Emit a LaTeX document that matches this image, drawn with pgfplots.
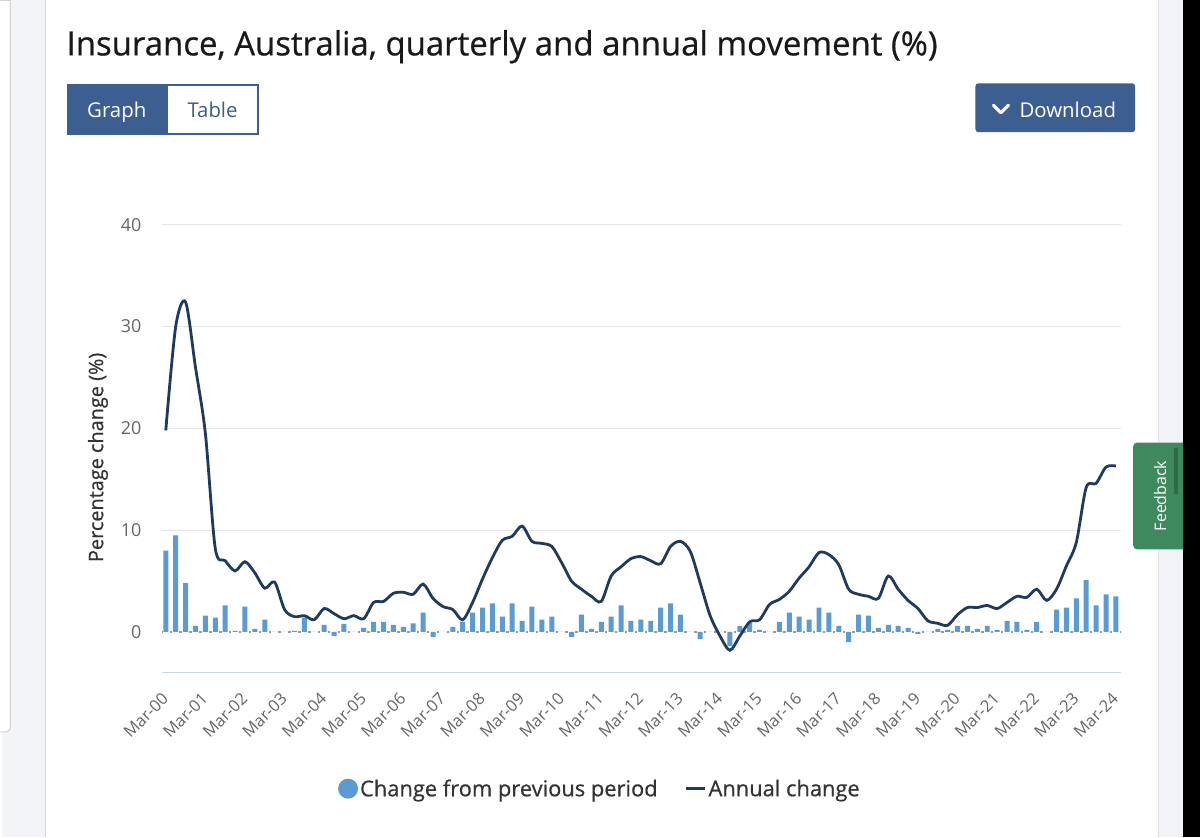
\documentclass[border=0pt]{standalone}
\usepackage{fontspec}
\setmainfont{Open Sans}
\newfontfamily\semib[FakeBold=0.6]{Open Sans}
\usepackage{pgfplots}
\pgfplotsset{compat=1.18}
\usepackage{pgfplotstable}
\definecolor{barblue}{HTML}{5A9BD4}
\definecolor{linenavy}{HTML}{1F3A5F}
\definecolor{btnnavy}{HTML}{3D5E91}
\definecolor{gridgrey}{HTML}{E6E6E6}
\definecolor{axisblue}{HTML}{CCD6EB}
\definecolor{ticktext}{HTML}{666666}
\definecolor{labeltext}{HTML}{333333}
\definecolor{sidegrey}{HTML}{F3F4F7}
\definecolor{fbgreen}{HTML}{3E8A5E}
\definecolor{fbdark}{HTML}{2C6B45}

\pgfplotstableread{
i bar line
0 8.0 19.8
1 9.5 30.0
2 4.8 32.4
3 0.6 26.0
4 1.6 19.5
5 1.4 8.2
6 2.6 7.0
7 0.1 6.0
8 2.5 6.9
9 0.3 5.8
10 1.2 4.3
11 0.0 4.9
12 0.0 2.2
13 0.1 1.5
14 1.4 1.6
15 0.0 1.2
16 0.7 2.3
17 -0.4 1.8
18 0.8 1.3
19 0.0 1.6
20 0.4 1.3
21 1.0 2.9
22 1.0 3.0
23 0.7 3.8
24 0.5 3.9
25 0.85 3.7
26 1.9 4.7
27 -0.5 3.3
28 0.0 2.5
29 0.5 2.2
30 1.0 1.2
31 1.9 2.9
32 2.4 5.2
33 2.8 7.3
34 1.5 9.0
35 2.8 9.4
36 1.1 10.4
37 2.5 8.9
38 1.2 8.7
39 1.5 8.4
40 0.0 6.8
41 -0.5 5.0
42 1.7 4.2
43 0.3 3.5
44 1.0 3.0
45 1.5 5.5
46 2.6 6.4
47 1.1 7.2
48 1.2 7.4
49 1.1 7.0
50 2.4 6.7
51 2.8 8.4
52 1.7 8.9
53 0.0 7.9
54 -0.7 4.8
55 0.0 1.6
56 0.0 -0.4
57 -1.4 -1.8
58 0.6 -0.4
59 0.9 1.0
60 0.2 1.2
61 0.0 2.7
62 1.0 3.2
63 1.9 4.0
64 1.5 5.3
65 1.2 6.4
66 2.4 7.8
67 1.9 7.6
68 0.6 6.6
69 -1.0 4.2
70 1.7 3.7
71 1.6 3.5
72 0.4 3.3
73 0.7 5.5
74 0.6 4.2
75 0.4 3.1
76 -0.2 2.3
77 0.0 1.1
78 0.3 0.85
79 0.2 0.65
80 0.6 1.7
81 0.6 2.4
82 0.3 2.4
83 0.6 2.6
84 0.2 2.3
85 1.1 2.9
86 1.0 3.5
87 0.2 3.4
88 1.0 4.2
89 0.0 3.1
90 2.2 4.2
91 2.4 6.5
92 3.3 8.8
93 5.1 14.2
94 2.6 14.6
95 3.7 16.2
96 3.5 16.3
}\datatable

\begin{document}
\begin{tikzpicture}[x=1bp,y=1bp]
% page background
\fill[white] (0,0) rectangle (1200,838);
\fill[sidegrey] (0,0) rectangle (43,838);
\draw[black!15, line width=1bp] (43,0) -- (43,838);
\draw[black!18, line width=1bp, fill=white] (-2,838) -- (8,838) -- (8,110) arc (0:-90:5) -- (-2,105);
\fill[sidegrey] (1158,0) rectangle (1183,838);
\draw[black!12, line width=1bp] (1158,0) -- (1158,838);
\fill[black] (1183,0) rectangle (1200,838);
% title
\node[anchor=base west, inner sep=0, text=black!90, font=\semib\fontsize{33.5}{38}\selectfont] at (64,783) {\scalebox{0.99}[1]{Insurance, Australia, quarterly and annual movement (\%)}};
% graph / table toggle
\fill[btnnavy] (65,703) rectangle (165,754);
\draw[btnnavy, line width=2bp, fill=white] (165,704) rectangle (256,753);
\node[anchor=base, inner sep=0, text=white, font=\fontsize{20.5}{24}\selectfont] at (114.5,721) {Graph};
\node[anchor=base, inner sep=0, text=btnnavy, font=\fontsize{20.5}{24}\selectfont] at (210.5,721) {Table};
% download button
\fill[btnnavy, rounded corners=3bp] (975,706) rectangle (1135,755);
\draw[white, line width=3.2bp, line cap=round, line join=round] (993,733) -- (1000.5,725.5) -- (1008,733);
\node[anchor=base west, inner sep=0, text=white, font=\fontsize{20.5}{24}\selectfont] at (1019,721) {Download};
% feedback tab
\begin{scope}
\clip (1120,250) rectangle (1183,420);
\fill[fbgreen, rounded corners=4bp] (1133,288) rectangle (1195,395);
\end{scope}
\fill[fbdark, rounded corners=1bp] (1174,343) rectangle (1178,390);
\node[rotate=90, inner sep=0, text=white, font=\fontsize{16}{19}\selectfont] at (1160,341.5) {Feedback};

\begin{axis}[
  at={(161,161)}, anchor=south west,
  scale only axis, width=961bp, height=449bp,
  xmin=-0.4, xmax=96.5, ymin=-4.02, ymax=40,
  axis line style={draw=none},
  major tick length=0pt,
  ytick={10,20,30,40},
  extra y ticks={0},
  extra y tick style={grid=none},
  ymajorgrids,
  grid style={gridgrey, line width=1bp},
  /pgf/number format/assume math mode=true,
  yticklabel style={font=\fontsize{18}{21}\selectfont, text=ticktext, anchor=east, xshift=-17bp},
  xtick={0,4,...,96},
  xticklabels={Mar-00,Mar-01,Mar-02,Mar-03,Mar-04,Mar-05,Mar-06,Mar-07,Mar-08,Mar-09,Mar-10,Mar-11,Mar-12,Mar-13,Mar-14,Mar-15,Mar-16,Mar-17,Mar-18,Mar-19,Mar-20,Mar-21,Mar-22,Mar-23,Mar-24},
  xticklabel style={font=\fontsize{16.5}{19}\selectfont, text=ticktext, rotate=45, anchor=north east, inner sep=0pt, xshift=-16.6bp, yshift=-9.6bp},
  ylabel={Percentage change (\%)},
  every axis y label/.style={at={(axis description cs:-0.0666,0.481)}, rotate=90, anchor=center, font=\semib\fontsize{20}{23}\selectfont, text=labeltext},
  legend columns=2,
  legend style={at={(axis description cs:0.4568,-0.2584)}, anchor=center, draw=none, fill=none, font=\semib\fontsize{22}{26}\selectfont, text=labeltext, /tikz/every even column/.append style={column sep=25bp}},
  clip=false,
]
\draw[axisblue, line width=1.2bp] (rel axis cs:0,0) -- (rel axis cs:1,0);
\draw[black!40, line width=1.3bp, dash pattern=on 2.5bp off 7.417bp, dash phase=2.2bp] (axis cs:-0.4,0) -- (axis cs:96.5,0);
\addplot[ybar, bar width=5bp, fill=barblue, draw=none,
  legend image code/.code={\fill[barblue] (4bp,0) circle (10bp);}]
  table[x=i, y=bar] {\datatable};
\addlegendentry{Change from previous period}
\addplot[smooth, tension=0.5, color=linenavy, line width=2.8bp, mark=none,
  legend image code/.code={\draw[linenavy, line width=3bp] (0,0) -- (19bp,0);}]
  table[x=i, y=line] {\datatable};
\addlegendentry{Annual change}
\end{axis}
\end{tikzpicture}
\end{document}
